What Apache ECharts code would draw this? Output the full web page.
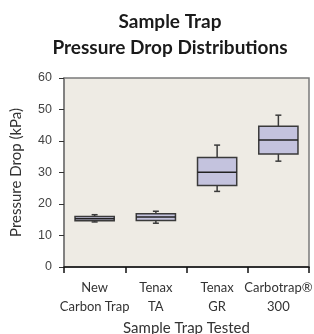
<!DOCTYPE html>
<html>
<head>
<meta charset="utf-8">
<script src="https://cdn.jsdelivr.net/npm/echarts@6/dist/echarts.min.js"></script>
<style>
html,body{margin:0;padding:0;background:#fff;}
#chart{width:314px;height:334px;}
</style>
</head>
<body>
<div id="chart"></div>
<script>
var categories = ['New\nCarbon Trap', 'Tenax\nTA', 'Tenax\nGR', 'Carbotrap®\n300'];
var whiskerLow = [14.3, 13.9, 24.0, 33.6];
var q1 = [14.7, 14.8, 25.9, 35.9];
var median = [15.3, 15.9, 30.1, 40.3];
var q3 = [16.0, 16.9, 34.8, 44.7];
var whiskerHigh = [16.6, 17.7, 38.7, 48.2];
var yTicks = [0, 10, 20, 30, 40, 50, 60];

var data = categories.map(function (c, i) {
  return [i, whiskerLow[i], q1[i], median[i], q3[i], whiskerHigh[i]];
});

var chart = echarts.init(document.getElementById('chart'));
var stroke = '#3a3a3a';
var option = {
  animation: false,
  title: {
    text: 'Sample Trap\nPressure Drop Distributions',
    left: 165,
    top: 4,
    textAlign: 'center',
    textStyle: {fontFamily: 'Lato', fontWeight: 'bold', fontSize: 19, lineHeight: 26, color: '#1a1a1a'}
  },
  grid: {
    left: 64, right: 5, top: 78, bottom: 67,
    containLabel: false,
    outerBoundsMode: 'none',
    show: true, backgroundColor: '#eeebe4', borderColor: '#7a7a7a', borderWidth: 1.5
  },
  xAxis: {
    type: 'category',
    data: categories,
    boundaryGap: true,
    name: 'Sample Trap Tested',
    nameLocation: 'middle',
    nameGap: 52,
    nameTextStyle: {fontFamily: 'Lato', fontSize: 15, color: '#333'},
    axisLine: {lineStyle: {color: '#111', width: 1.5}},
    axisTick: {show: true, length: 6, lineStyle: {color: '#111', width: 1.5}},
    axisLabel: {interval: 0, margin: 11, fontFamily: 'Lato', fontSize: 13, lineHeight: 19, color: '#333'}
  },
  yAxis: {
    type: 'value',
    min: yTicks[0],
    max: yTicks[yTicks.length - 1],
    interval: 10,
    name: 'Pressure Drop (kPa)',
    nameLocation: 'middle',
    nameGap: 40,
    nameTextStyle: {fontFamily: 'Lato', fontSize: 15, color: '#333'},
    axisLine: {show: true, lineStyle: {color: '#7a7a7a', width: 1.5}},
    axisTick: {show: true, length: 5, lineStyle: {color: '#333', width: 1}},
    axisLabel: {margin: 12, fontFamily: 'Liberation Sans', fontSize: 12.5, color: '#444'},
    splitLine: {show: false}
  },
  series: [{
    type: 'custom',
    data: data,
    encode: {x: 0, y: [1, 2, 3, 4, 5]},
    renderItem: function (params, api) {
      var x = api.value(0);
      var lo = api.coord([x, api.value(1)]);
      var b1 = api.coord([x, api.value(2)]);
      var md = api.coord([x, api.value(3)]);
      var b3 = api.coord([x, api.value(4)]);
      var hi = api.coord([x, api.value(5)]);
      var cx = lo[0];
      var w = api.size([1, 0])[0] * 0.64;
      var cap = 3;
      var ls = {stroke: stroke, lineWidth: 1.5};
      return {
        type: 'group',
        children: [
          {type: 'line', shape: {x1: cx, y1: hi[1], x2: cx, y2: b3[1]}, style: ls},
          {type: 'line', shape: {x1: cx, y1: b1[1], x2: cx, y2: lo[1]}, style: ls},
          {type: 'line', shape: {x1: cx - cap, y1: hi[1], x2: cx + cap, y2: hi[1]}, style: ls},
          {type: 'line', shape: {x1: cx - cap, y1: lo[1], x2: cx + cap, y2: lo[1]}, style: ls},
          {type: 'rect', shape: {x: cx - w / 2, y: b3[1], width: w, height: b1[1] - b3[1]},
           style: {fill: '#c4c3de', stroke: stroke, lineWidth: 1.5}},
          {type: 'line', shape: {x1: cx - w / 2, y1: md[1], x2: cx + w / 2, y2: md[1]}, style: {stroke: '#222', lineWidth: 1.5}}
        ]
      };
    }
  }]
};
chart.setOption(option);
</script>
</body>
</html>
